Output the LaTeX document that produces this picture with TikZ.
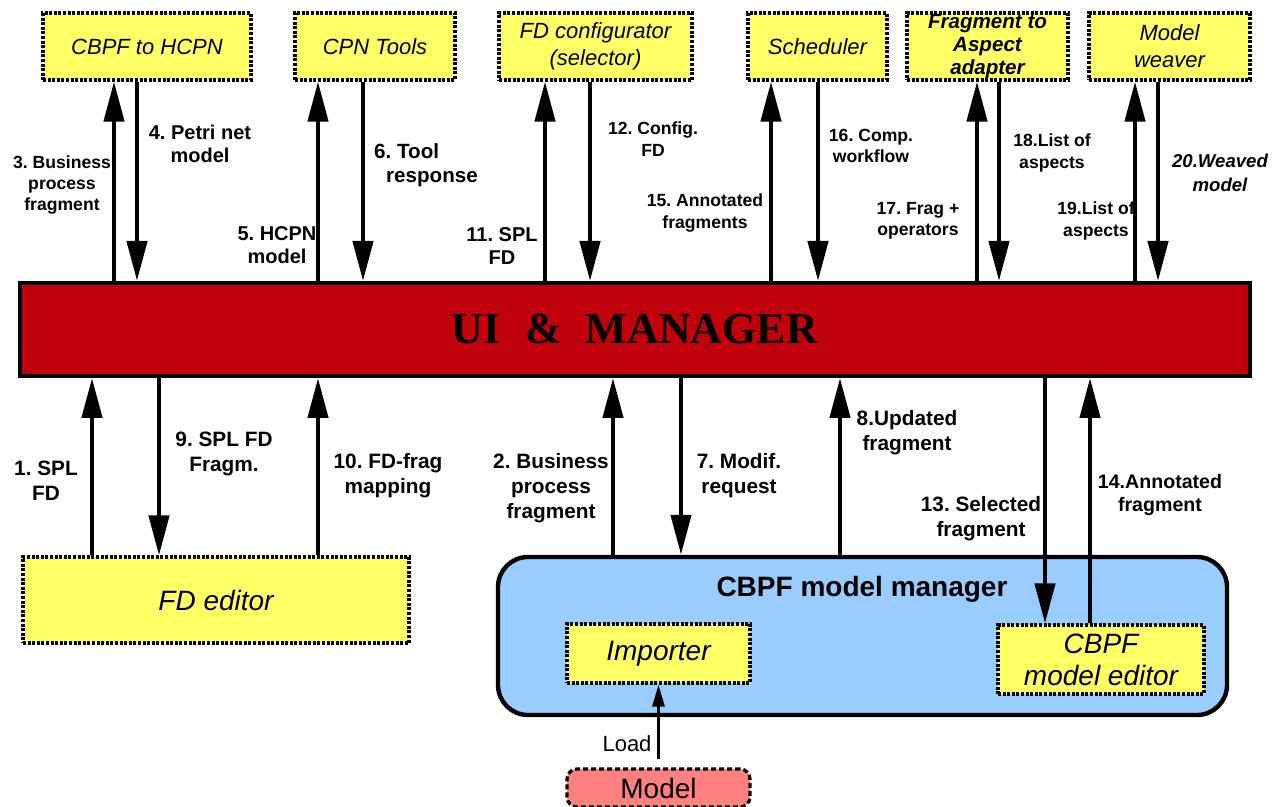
\documentclass[tikz,border=0pt]{standalone}
\usepackage{fontspec}
\setmainfont{Liberation Sans}
\newfontfamily\trajanish{Liberation Serif}
\usetikzlibrary{arrows.meta}
\frenchspacing

\definecolor{toolyellow}{RGB}{255,255,102}
\definecolor{mgrred}{RGB}{192,0,11}
\definecolor{mmblue}{RGB}{153,204,255}
\definecolor{modelpink}{RGB}{255,128,128}

\tikzset{
  tool/.style={draw, fill=toolyellow, line width=1.6pt, dash pattern=on 1.5pt off 0.8pt,
    font=\itshape\fontsize{11}{13.5}\selectfont, align=center, inner sep=0pt,
    minimum height=33.5pt},
  subtool/.style={tool, font=\itshape\fontsize{14}{16}\selectfont},
  flow/.style={line width=2.2pt, -{Triangle[length=20pt,width=10pt]}},
  loadflow/.style={line width=1.5pt, -{Triangle[length=11pt,width=6pt]}},
  toplbl/.style={font=\bfseries\fontsize{8.8}{10.7}\selectfont, align=center, inner sep=0pt},
  midlbl/.style={font=\bfseries\fontsize{10}{11.5}\selectfont, align=center, inner sep=0pt},
  botlbl/.style={font=\bfseries\fontsize{10.4}{12.5}\selectfont, align=center, inner sep=0pt},
}

\begin{document}
\begin{tikzpicture}[x=0.5pt,y=-0.5pt]
\useasboundingbox (0,0) rectangle (1279,807);

% external tools
\node[tool, minimum width=104pt] (hcpn) at (147,46.5) {CBPF to HCPN};
\node[tool, minimum width=80pt] (cpn) at (375,46.5) {CPN Tools};
\node[tool, minimum width=96.5pt] (fdconf) at (595.5,46.5) {FD configurator\\(selector)};
\node[tool, minimum width=69.5pt] (sched) at (817.5,46.5) {Scheduler};
\node[tool, minimum width=80.5pt] (frag) at (987.5,46.5) {};
\node[font=\bfseries\itshape\fontsize{10.3}{11.6}\selectfont, align=center] (fragtxt)
  at (frag.center) {Fragment to\\Aspect\\adapter};
\node[tool, minimum width=80.5pt] (weaver) at (1169.5,46.5) {Model\\weaver};

% manager bar
\node[draw, fill=mgrred, line width=2pt, minimum width=615pt, minimum height=46.5pt,
  font=\trajanish\bfseries\fontsize{22}{22}\selectfont] (mgr) at (635,329.5)
  {UI\hspace{0.55em}\&\hspace{0.55em}MANAGER};

% lower part
\node[tool, minimum width=193pt, minimum height=43pt, font=\itshape\fontsize{14}{16}\selectfont]
  (fdedit) at (216,600) {FD editor};
\node[draw, fill=mmblue, line width=2.2pt, rounded corners=15pt, minimum width=364.5pt,
  minimum height=79pt] (cbpfmm) at (862.5,636) {};
\node[font=\bfseries\fontsize{14}{16}\selectfont] (mmtitle) at (862,589) {CBPF model manager};
\node[subtool, minimum width=91.5pt, minimum height=29.5pt] (importer) at (658.5,653.5) {Importer};
\node[subtool, minimum width=103pt, minimum height=34.5pt] (editor) at (1101,659.5) {CBPF\\model editor};
\node[draw, fill=modelpink, line width=1.6pt, dash pattern=on 2.5pt off 1.5pt, rounded corners=5pt,
  minimum width=91.5pt, minimum height=19pt, font=\fontsize{14}{16}\selectfont]
  (model) at (658.5,788) {Model};

% top flows
\foreach \up/\down/\tgt in {114/137/hcpn, 318/363/cpn, 545/590/fdconf,
                            771/818/sched, 977/999/frag, 1135/1158/weaver} {
  \draw[flow] (\up,0 |- mgr.north) -- (\up,0 |- \tgt.south);
  \draw[flow] (\down,0 |- \tgt.south) -- (\down,0 |- mgr.north);
}

% bottom flows
\foreach \xx in {92,318}
  \draw[flow] (\xx,0 |- fdedit.north) -- (\xx,0 |- mgr.south);
\draw[flow] (159,0 |- mgr.south) -- (159,0 |- fdedit.north);
\foreach \xx in {613,840}
  \draw[flow] (\xx,0 |- cbpfmm.north) -- (\xx,0 |- mgr.south);
\draw[flow] (681,0 |- mgr.south) -- (681,0 |- cbpfmm.north);
\draw[flow] (1045,0 |- mgr.south) -- (1045,0 |- editor.north);
\draw[flow] (1090,0 |- editor.north) -- (1090,0 |- mgr.south);
\draw[loadflow, shorten <=4pt] (model.north) -- (importer.south);

% labels
\node[toplbl] (l3) at (62,185) {3. Business\\process\\fragment};
\node[midlbl] (l4) at (200,144) {4. Petri net\\model};
\node[midlbl] (l5) at (277,245) {5. HCPN\\model};
\node[font=\bfseries\fontsize{10.3}{12}\selectfont, align=left, inner sep=0pt]
  (l6) at (426,165) {6. Tool\\\hspace*{6pt}response};
\node[midlbl] (l11) at (502,246) {11. SPL\\FD};
\node[toplbl] (l12) at (653,139) {12. Config.\\FD};
\node[toplbl] (l15) at (705,213) {15. Annotated\\fragments};
\node[toplbl] (l16) at (871,146) {16. Comp.\\workflow};
\node[toplbl] (l17) at (918,221) {17. Frag +\\operators};
\node[toplbl] (l18) at (1052,153) {18.List of\\aspects};
\node[toplbl] (l19) at (1096,221) {19.List of\\aspects};
\node[font=\bfseries\itshape\fontsize{9.3}{12}\selectfont, align=center, inner sep=0pt]
  (l20) at (1220,173) {20.Weaved\\model};

\node[botlbl] (b1) at (46,481) {1. SPL\\FD};
\node[botlbl] (b9) at (224,454) {9. SPL FD\\Fragm.};
\node[botlbl] (b10) at (388,476) {10. FD-frag\\mapping};
\node[botlbl] (b2) at (551,488) {2. Business\\process\\fragment};
\node[botlbl] (b7) at (739,476) {7. Modif.\\request};
\node[botlbl] (b8) at (907,433) {8.Updated\\fragment};
\node[botlbl] (b13) at (981,519) {13. Selected\\fragment};
\node[botlbl, font=\bfseries\fontsize{9.8}{11.5}\selectfont] (b14) at (1160,495) {14.Annotated\\fragment};
\node[font=\fontsize{11}{13}\selectfont, inner sep=0pt] (loadlbl) at (627,744) {Load};
\end{tikzpicture}
\end{document}
